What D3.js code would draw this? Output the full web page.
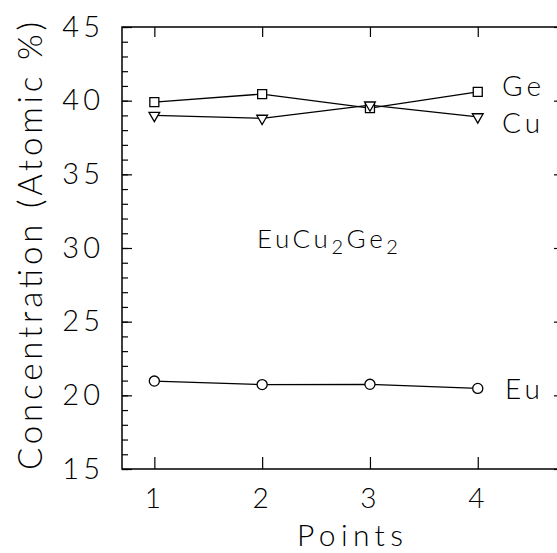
<!DOCTYPE html>
<html>
<head>
<meta charset="utf-8">
<script src="https://cdn.jsdelivr.net/npm/d3@7"></script>
<style>
  html, body { margin: 0; padding: 0; background: #fff; }
  svg { display: block; }
  text { font-family: Lato, "DejaVu Sans", sans-serif; font-weight: 300; fill: #000; }
</style>
</head>
<body>
<svg id="chart" width="557" height="553"></svg>
<script>
const points = [1, 2, 3, 4];
const geValues = [39.9, 40.45, 39.5, 40.6];
const cuValues = [39.0, 38.8, 39.7, 38.9];
const euValues = [20.97, 20.73, 20.75, 20.47];
const xTicks = [1, 2, 3, 4];
const yMajorTicks = [15, 20, 25, 30, 35, 40, 45];
const yMinorTicks = d3.range(15, 46, 1);
const seriesLabels = ["Ge", "Cu", "Eu"];

const FONT = "Lato, 'DejaVu Sans', sans-serif";
const svg = d3.select("#chart");
const mLeft = 122, mRight = 564, mTop = 27, mBottom = 469;

const x = d3.scaleLinear().domain([0.7, 4.8]).range([mLeft, mRight]);
const y = d3.scaleLinear().domain([15, 45]).range([mBottom, mTop]);

// frame
svg.append("rect").attr("x", mLeft).attr("y", mTop)
  .attr("width", mRight - mLeft).attr("height", mBottom - mTop)
  .attr("fill", "none").attr("stroke", "#000").attr("stroke-width", 1.5);

function styleAxis(g, size) {
  g.select(".domain").remove();
  g.selectAll("line").attr("stroke", "#000").attr("stroke-width", 1.2);
  g.selectAll("text").attr("font-size", size || 29).attr("font-family", FONT)
    .attr("font-weight", 300).attr("fill", "#000").attr("letter-spacing", 4);
}

// left axis
svg.append("g").attr("transform", `translate(${mLeft},0)`)
  .call(d3.axisLeft(y).tickValues(yMinorTicks).tickSize(-6).tickFormat(""))
  .call(styleAxis);
svg.append("g").attr("transform", `translate(${mLeft},0)`)
  .call(d3.axisLeft(y).tickValues(yMajorTicks).tickSize(-10).tickPadding(18).tickFormat(d3.format("d")))
  .call(styleAxis);
// right axis
svg.append("g").attr("transform", `translate(${mRight},0)`)
  .call(d3.axisRight(y).tickValues(yMinorTicks).tickSize(-6).tickFormat(""))
  .call(styleAxis);
svg.append("g").attr("transform", `translate(${mRight},0)`)
  .call(d3.axisRight(y).tickValues(yMajorTicks).tickSize(-10).tickFormat(""))
  .call(styleAxis);
// bottom axis
svg.append("g").attr("transform", `translate(0,${mBottom})`)
  .call(d3.axisBottom(x).tickValues(xTicks).tickSize(-12).tickPadding(19).tickFormat(d3.format("d")))
  .call(g => styleAxis(g, 28));
// top axis
svg.append("g").attr("transform", `translate(0,${mTop})`)
  .call(d3.axisTop(x).tickValues(xTicks).tickSize(-10).tickFormat(""))
  .call(styleAxis);

// series
const series = [
  { name: seriesLabels[0], values: geValues, symbol: d3.symbolSquare, size: 81, rot: 0 },
  { name: seriesLabels[1], values: cuValues, symbol: d3.symbolTriangle, size: 50, rot: 180 },
  { name: seriesLabels[2], values: euValues, symbol: d3.symbolCircle, size: 80, rot: 0 }
];
const line = d3.line().x((d, i) => x(points[i])).y(d => y(d));

series.forEach(s => {
  svg.append("path").datum(s.values).attr("d", line)
    .attr("fill", "none").attr("stroke", "#000").attr("stroke-width", 1.3);
});
series.forEach(s => {
  svg.append("g").selectAll("path").data(s.values).join("path")
    .attr("d", d3.symbol().type(s.symbol).size(s.size))
    .attr("transform", (d, i) => `translate(${x(points[i])},${y(d)}) rotate(${s.rot})`)
    .attr("fill", "#fff").attr("stroke", "#000").attr("stroke-width", 1.3);
});

// series labels
const labelPos = [[502, 96], [502, 133], [505, 399]];
seriesLabels.forEach((t, i) => {
  svg.append("text").attr("x", labelPos[i][0]).attr("y", labelPos[i][1])
    .attr("font-size", 28).attr("letter-spacing", 4).text(t);
});

// compound label
const comp = svg.append("text").attr("x", 257).attr("y", 248).attr("font-size", 26).attr("letter-spacing", 3.6);
comp.append("tspan").text("EuCu");
comp.append("tspan").attr("font-size", 20).attr("dy", 6).text("2");
comp.append("tspan").attr("dy", -6).text("Ge");
comp.append("tspan").attr("font-size", 20).attr("dy", 6).text("2");

// axis titles
svg.append("text").attr("x", 350).attr("y", 546).attr("text-anchor", "middle")
  .attr("font-size", 30).attr("textLength", 106).attr("lengthAdjust", "spacing").text("Points");
svg.append("text").attr("transform", "translate(42,246) rotate(-90)").attr("text-anchor", "middle")
  .attr("font-size", 33).attr("textLength", 448).attr("lengthAdjust", "spacing")
  .text("Concentration (Atomic %)");
</script>
</body>
</html>
